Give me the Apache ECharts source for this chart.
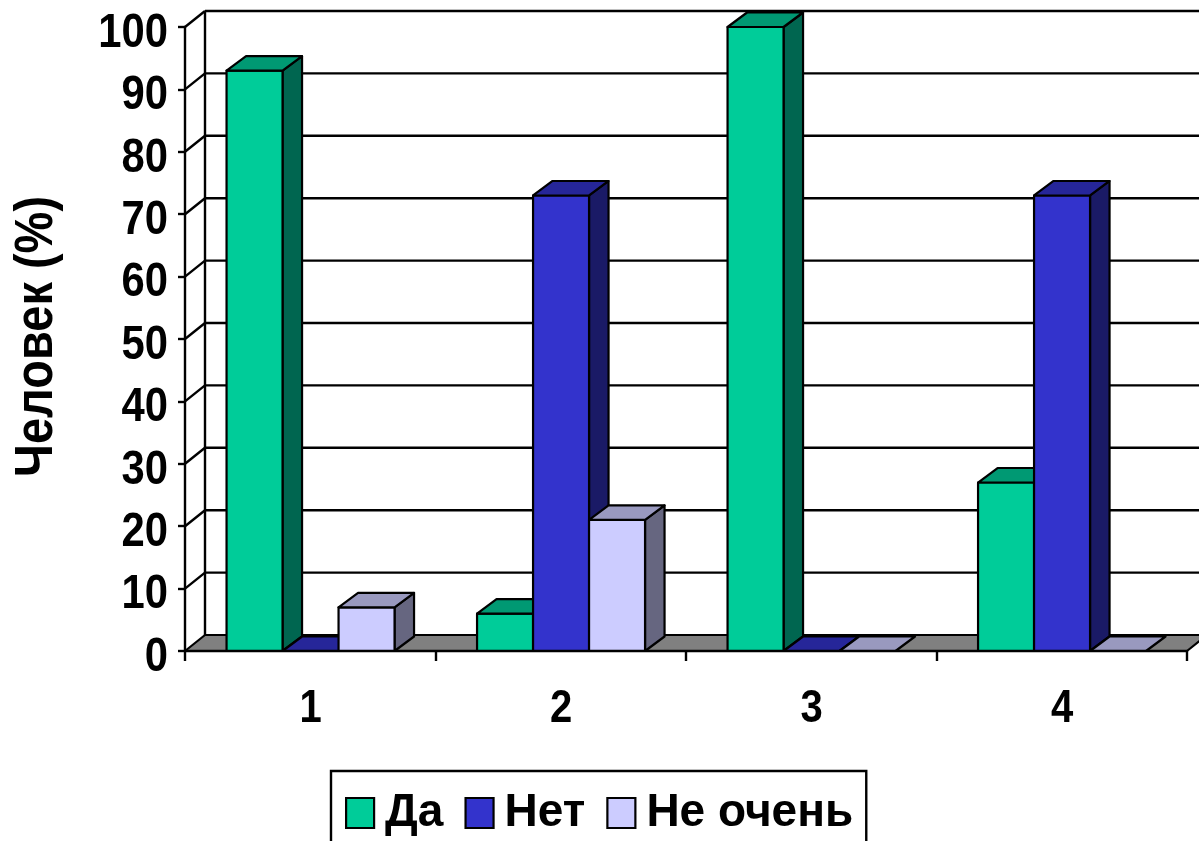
<!DOCTYPE html>
<html><head><meta charset="utf-8">
<style>html,body{margin:0;padding:0;background:#fff}#c{width:1199px;height:841px}</style>
<script src="https://cdn.jsdelivr.net/npm/echarts@6/dist/echarts.min.js"></script>
</head><body><div id="c"></div>
<script>
const categories = ['1','2','3','4'];
const seriesNames = ['Да','Нет','Не очень'];
const da = [93,6,100,27];
const net = [0,73,0,73];
const neOchen = [7,21,0,0];
const tickValues = [0,10,20,30,40,50,60,70,80,90,100];
const yTitle = 'Человек (%)';
const frontColors = ['#00CC99','#3333CC','#CCCCFF'];
const topColors = ['#009973','#262699','#9999BF'];
const sideColors = ['#006650','#1A1A66','#666680'];
const wide = '"Liberation Sans",Arial,sans-serif';
const BAR_RATIO = 56/250.5, DX = 19.5, DY = -14.5, WX = 20, WY = -16;
const line = {stroke:'#000',lineWidth:2.4,fill:null};
const edge = {stroke:'#000',lineWidth:2.2,lineJoin:'round'};
const SQUEEZE = 0.87;

function poly(points, fill){ return {type:'polygon',shape:{points},style:Object.assign({fill},edge)}; }

function narrowText(text, x, y, align, size, rotation){
  return {type:'text',x,y,scaleX:SQUEEZE,rotation:rotation||0,z2:20,
    style:{text,x:0,y:0,fill:'#000',font:'bold '+size+'px '+wide,textAlign:align,textVerticalAlign:'middle'}};
}

function barSeries(idx, values){
  return {
    name: seriesNames[idx], type:'custom', z:5,
    itemStyle:{color:frontColors[idx]},
    data: values.map((v,i)=>[i,v]),
    renderItem(params, api){
      const band = api.size([1,0])[0];
      const w = band*BAR_RATIO;
      const c0 = api.coord([api.value(0),0]);
      const c1 = api.coord([api.value(0),api.value(1)]);
      const l = c0[0]-1.5*w+idx*w+0.3, r = l+w, b = c0[1], t = c1[1];
      const kids = [];
      if (b-t > 0.5) {
        kids.push(poly([[r,b],[r+DX,b+DY],[r+DX,t+DY],[r,t]],sideColors[idx]));
        kids.push(poly([[l,b],[r,b],[r,t],[l,t]],frontColors[idx]));
      }
      kids.push(poly([[l,t],[r,t],[r+DX,t+DY],[l+DX,t+DY]],topColors[idx]));
      return {type:'group',children:kids};
    }
  };
}

const wallSeries = {
  type:'custom', z:1, silent:true,
  data: tickValues.map(v=>[0,v]),
  renderItem(params, api){
    const band = api.size([1,0])[0];
    const p = api.coord([0,api.value(1)]);
    const x0 = p[0]-band/2, x1 = x0+band*categories.length, y = p[1];
    const kids = [];
    if (api.value(1) === 0) {
      const top = api.coord([0,100])[1];
      kids.push(poly([[x0,y],[x0+WX,y+WY],[x1+WX,y+WY],[x1,y]],'#808080'));
      kids.push({type:'line',shape:{x1:x0+WX,y1:y+WY,x2:x0+WX,y2:top+WY},style:line});
      kids.push(narrowText(yTitle, x0-148, (y+top)/2-2.5, 'center', 54, Math.PI/2));
    } else {
      kids.push({type:'line',shape:{x1:x0,y1:y,x2:x0+WX,y2:y+WY},style:line});
      kids.push({type:'line',shape:{x1:x0+WX,y1:y+WY,x2:x1+WX,y2:y+WY},style:line});
    }
    kids.push(narrowText(String(api.value(1)), x0-17, y+6.5, 'right', 48));
    return {type:'group',children:kids};
  }
};

const xLabelSeries = {
  type:'custom', z:7, silent:true,
  data: categories.map((c,i)=>[i,0]),
  renderItem(params, api){
    const p = api.coord([api.value(0),0]);
    return narrowText(categories[api.value(0)], p[0]+0.5, p[1]+58, 'center', 46);
  }
};

const chart = echarts.init(document.getElementById('c'),null,{renderer:'canvas'});
chart.setOption({
  animation:false,
  backgroundColor:'#fff',
  grid:{left:185,right:12,top:27,bottom:190,containLabel:false,outerBoundsMode:'none'},
  xAxis:{type:'category',data:categories,boundaryGap:true,z:6,
    axisLine:{lineStyle:{color:'#000',width:2.4}},
    axisTick:{show:true,alignWithLabel:false,length:10,lineStyle:{color:'#000',width:2.4}},
    axisLabel:{show:false},
    splitLine:{show:false}},
  yAxis:{type:'value',min:0,max:100,interval:10,z:6,
    axisLine:{show:true,lineStyle:{color:'#000',width:2.4}},
    axisTick:{show:true,length:7,lineStyle:{color:'#000',width:2.4}},
    axisLabel:{show:false},
    splitLine:{show:false}},
  legend:{left:331,top:771,orient:'horizontal',
    data:seriesNames.map((n,i)=>({name:n,icon:'rect',itemStyle:{color:frontColors[i],borderColor:'#000',borderWidth:2.2}})),
    itemWidth:28,itemHeight:30,itemGap:21,
    backgroundColor:'#fff',borderColor:'#000',borderWidth:2.4,padding:[19,13,30,14],
    textStyle:{color:'#000',fontFamily:wide,fontWeight:'bold',fontSize:46,padding:[0,0,0,6]},
    selectedMode:false},
  tooltip:{show:false},
  series:[wallSeries,xLabelSeries,barSeries(0,da),barSeries(1,net),barSeries(2,neOchen)]
});
</script></body></html>
